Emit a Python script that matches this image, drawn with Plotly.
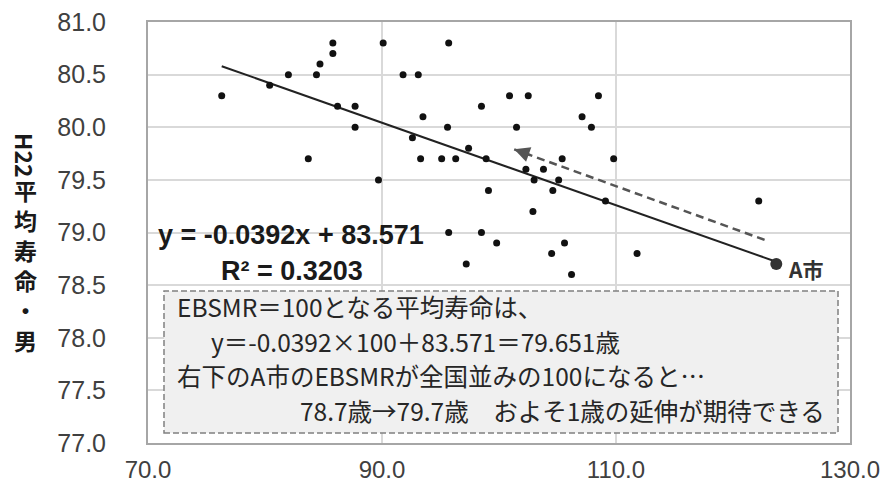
import plotly.graph_objects as go

# ---- data ----
ebsmr = [76.3, 80.4, 82.0, 83.7, 84.4, 84.7, 85.8, 85.8, 86.2, 87.7,
         87.7, 89.7, 90.1, 95.7, 91.8, 93.1, 100.9, 102.5, 108.5, 93.5,
         98.5, 107.1, 95.6, 101.5, 107.9, 92.6, 97.4, 93.3, 95.1, 96.3,
         98.9, 105.4, 109.8, 102.3, 103.8, 103.0, 105.1, 104.6, 99.1, 109.1,
         122.2, 102.9, 95.7, 98.5, 99.8, 105.6, 104.5, 111.8, 97.2, 106.2]
life = [80.3, 80.4, 80.5, 79.7, 80.5, 80.6, 80.8, 80.7, 80.2, 80.2,
        80.0, 79.5, 80.8, 80.8, 80.5, 80.5, 80.3, 80.3, 80.3, 80.1,
        80.2, 80.1, 80.0, 80.0, 80.0, 79.9, 79.8, 79.7, 79.7, 79.7,
        79.7, 79.7, 79.7, 79.6, 79.6, 79.5, 79.5, 79.4, 79.4, 79.3,
        79.3, 79.2, 79.0, 79.0, 78.9, 78.9, 78.8, 78.8, 78.7, 78.6]
city_name = "A市"
city_x = [123.7]
city_y = [78.7]

slope = -0.0392
intercept = 83.571
r2 = 0.3203

arrow_from = (122.7, 78.93)
arrow_to = (101.3, 79.79)

x_ticks = [70.0, 90.0, 110.0, 130.0]
y_ticks = [77.0, 77.5, 78.0, 78.5, 79.0, 79.5, 80.0, 80.5, 81.0]

box_lines = [
    "EBSMR＝100となる平均寿命は、",
    "y＝-0.0392×100＋83.571＝79.651歳",
    "右下のA市のEBSMRが全国並みの100になると…",
    "78.7歳→79.7歳　およそ1歳の延伸が期待できる",
]

# ---- geometry (window pixels; page body has an 8px margin) ----
OFF = 8
W, H = 888 - 2 * OFF, 499 - 2 * OFF
L, R, T, B = 148, 850, 22, 443          # plot area in window pixels
def px(x):
    return (x - L) / (R - L)
def py(y):
    return (B - y) / (B - T)

all_x = ebsmr + city_x
tx = [min(all_x), max(all_x)]
ty = [slope * v + intercept for v in tx]

fig = go.Figure()
fig.add_trace(go.Scatter(x=tx, y=ty, mode="lines",
                         line=dict(color="#222222", width=2), hoverinfo="skip"))
fig.add_trace(go.Scatter(x=ebsmr, y=life, mode="markers",
                         marker=dict(color="#111111", size=7)))
fig.add_trace(go.Scatter(x=city_x, y=city_y, mode="markers",
                         marker=dict(color="#333333", size=12)))

xtickfont = dict(family="Liberation Sans, Arial, sans-serif", size=24, color="#404040")
ytickfont = dict(family="Liberation Sans, Arial, sans-serif", size=25, color="#404040")

fig.update_layout(
    width=W, height=H,
    margin=dict(l=L - OFF, r=(W + OFF) - R, t=T - OFF, b=(H + OFF) - B, autoexpand=False),
    paper_bgcolor="white", plot_bgcolor="white",
    showlegend=False,
    xaxis=dict(range=[70, 130], tickvals=x_ticks, ticktext=[f"{v:.1f}" for v in x_ticks],
               showgrid=True, gridcolor="#d9d9d9", gridwidth=1.5,
               showline=True, linecolor="#a6a6a6", linewidth=2, mirror=True,
               zeroline=False, ticks="", tickfont=xtickfont, ticklabelstandoff=4,
               ticklabeloverflow="allow", automargin=False),
    yaxis=dict(range=[77, 81], tickvals=y_ticks, ticktext=[f"{v:.1f}" for v in y_ticks],
               showgrid=True, gridcolor="#d9d9d9", gridwidth=1.5,
               showline=True, linecolor="#a6a6a6", linewidth=2, mirror=True,
               zeroline=False, ticks="", tickfont=ytickfont, ticklabelstandoff=35,
               ticklabeloverflow="allow", automargin=False),
)

# dashed arrow
fig.add_shape(type="line", xref="x", yref="y",
              x0=arrow_from[0], y0=arrow_from[1], x1=arrow_to[0], y1=arrow_to[1],
              line=dict(color="#555555", width=2.5, dash="8px,5px"))
fig.add_annotation(x=arrow_to[0], y=arrow_to[1], ax=arrow_to[0] + 1.5,
                   ay=arrow_to[1] - 0.06, xref="x", yref="y", axref="x", ayref="y",
                   text="", showarrow=True, arrowhead=2, arrowsize=1.4,
                   arrowwidth=2.2, arrowcolor="#555555")

# text box
fig.add_shape(type="rect", xref="paper", yref="paper",
              x0=px(164), x1=px(838), y0=py(433), y1=py(291),
              fillcolor="#f0f0f0", line=dict(color="#808080", width=1.5, dash="6px,3px"),
              layer="above")

jp = "Noto Sans CJK JP, sans-serif"
box_pos = [(175, 306), (209, 341), (175, 375), (298, 410)]
for (bx, by), txt in zip(box_pos, box_lines):
    fig.add_annotation(x=px(bx), y=py(by), xref="paper", yref="paper",
                       text=txt, showarrow=False, xanchor="left", yanchor="middle",
                       font=dict(family=jp, size=24.5, color="#262626"))

# regression text
eqfont = dict(family="Liberation Sans, Arial, sans-serif", size=27, color="#1a1a1a")
fig.add_annotation(x=px(291), y=py(235), xref="paper", yref="paper",
                   xanchor="center", yanchor="middle",
                   text=f"<b>y = {slope}x + {intercept}</b>", showarrow=False, font=eqfont)
fig.add_annotation(x=px(292), y=py(271), xref="paper", yref="paper",
                   xanchor="center", yanchor="middle",
                   text=f"<b>R² = {r2}</b>", showarrow=False, font=eqfont)

# city label
fig.add_annotation(x=city_x[0], y=city_y[0], xref="x", yref="y", text=f"<b>{city_name}</b>",
                   showarrow=False, xanchor="left", yanchor="middle", xshift=10, yshift=-5,
                   font=dict(family=jp, size=21, color="#333333"))

# y-axis title (vertical writing)
fig.add_annotation(x=px(25), y=py(155), xref="paper", yref="paper", text="<b>H22</b>",
                   xanchor="center", yanchor="middle",
                   textangle=90, showarrow=False,
                   font=dict(family=jp, size=23, color="#1a1a1a"))
fig.add_annotation(x=px(25), y=py(265), xref="paper", yref="paper",
                   xanchor="center", yanchor="middle",
                   text="<b>平<br>均<br>寿<br>命<br>・<br>男</b>",
                   showarrow=False, font=dict(family=jp, size=23, color="#1a1a1a"))

fig.write_html("out.html")
